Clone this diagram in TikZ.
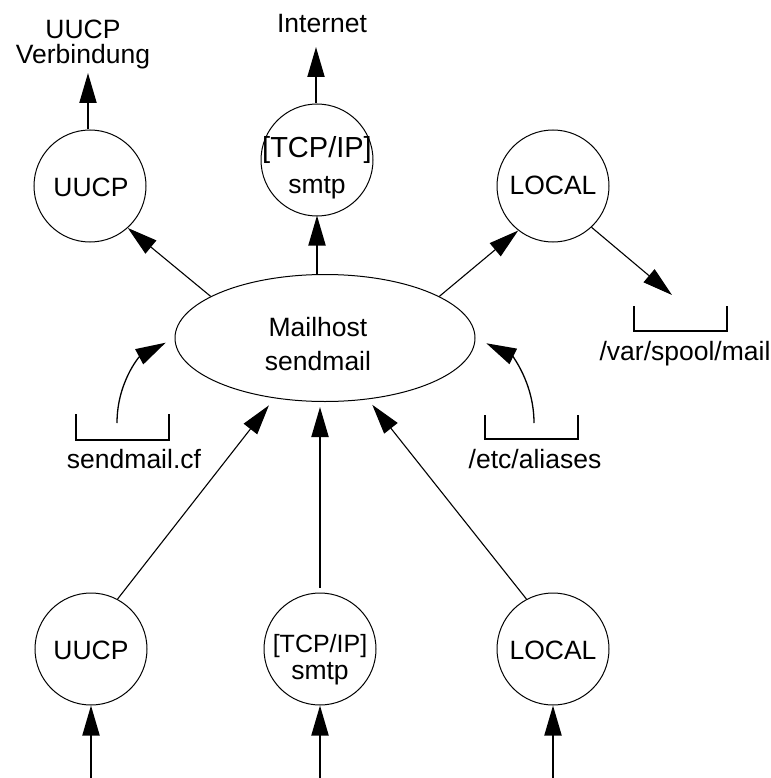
\documentclass[tikz,border=0pt]{standalone}
\usepackage{fontspec}
\setmainfont{Liberation Sans}
\usetikzlibrary{arrows.meta,shapes.geometric}
\begin{document}
\begin{tikzpicture}[x=1pt,y=-1pt,
  txt/.style={font=\fontsize{26.5}{30}\selectfont, inner sep=0pt, align=center},
  agent/.style={draw, circle, line width=1pt, minimum size=112pt, inner sep=0pt},
  hostshape/.style={draw, ellipse, line width=1pt, minimum width=300pt, minimum height=127pt, inner sep=0pt},
  tip/.style={-{Triangle[length=30pt,width=17pt]}},
  feed/.style={tip, line width=2pt},
  link/.style={tip, line width=1.1pt},
  cfg/.style={tip, line width=1.3pt},
  bracket/.style={line width=2.2pt},
]
\useasboundingbox (0,0) rectangle (770,778);
\coordinate (floor) at (0,778);

% central mail host
\node[hostshape] (host) at (325,338) {};
\node[txt] (hosttxt) at (318,344) {Mailhost\\[4pt]sendmail};

% outgoing mailers
\node[agent] (uucpTop) at (90,186) {};
\node[txt] (uucpTopTxt) at (91,187) {UUCP};
\node[agent] (tcpTop) at (317,160) {};
\node[txt] (tcpTopTxt) at (317,168) {\fontsize{29}{32}\selectfont [TCP/IP]\\[6pt]smtp};
\node[agent] (localTop) at (553,186) {};
\node[txt] (localTopTxt) at (553,185) {LOCAL};

% incoming mailers
\node[agent] (uucpBot) at (91,649) {};
\node[txt] (uucpBotTxt) at (91,650) {UUCP};
\node[agent] (tcpBot) at (320,649) {};
\node[txt] (tcpBotTxt) at (320,660) {\fontsize{25}{28}\selectfont [TCP/IP]\\[-3pt]smtp};
\node[agent] (localBot) at (553,649) {};
\node[txt] (localBotTxt) at (553,650) {LOCAL};

% external destinations
\node[txt] (uucpConn) at (83,44) {UUCP\\[-5pt]Verbindung};
\node[txt, anchor=base] (inet) at (322,33) {Internet};
\coordinate (uucpOut) at (88,73);
\coordinate (inetTip) at (316,47);

% files
\coordinate (spoolTip) at (672,295);
\draw[bracket] (634,306) -- (634,331) -- (727,331) -- (727,306);
\node[txt, anchor=base] (spool) at (685,360) {/var/spool/mail};

\draw[bracket] (76,414) -- (76,440) -- (169,440) -- (169,414);
\node[txt, anchor=base] (cf) at (134,468) {sendmail.cf};
\coordinate (cfOut) at (117,423);

\draw[bracket] (485,415) -- (485,439) -- (578,439) -- (578,415);
\node[txt, anchor=base] (aliases) at (535,468) {/etc/aliases};
\coordinate (alOut) at (534,423);

% outgoing connectors
\draw[feed] (uucpOut |- uucpTop.north) -- (uucpOut);
\draw[feed] (inetTip |- tcpTop.north) -- (inetTip);
\draw[link] (host.160) -- (uucpTop.-48);
\draw[feed, shorten >=-1pt] (host.north -| tcpTop.south) -- (tcpTop.south);
\draw[link] (host.20) -- (localTop.232);
\draw[link] (localTop.-47) -- (spoolTip);

% configuration files read by sendmail
\draw[cfg, shorten >=10pt] (cfOut) to[out=90, in=208] (host.west);
\draw[cfg, shorten >=12pt] (alOut) to[out=90, in=-26] (host.east);

% incoming connectors
\draw[link, shorten >=9pt] (uucpBot.62) -- (host.230.5);
\draw[feed, shorten <=5pt, shorten >=5pt] (tcpBot.north) -- (tcpBot.north |- host.south);
\draw[link, shorten >=7pt] (localBot.118) -- (host.305);

\draw[feed] (uucpBot.south |- floor) -- (uucpBot.south);
\draw[feed] (tcpBot.south |- floor) -- (tcpBot.south);
\draw[feed] (localBot.south |- floor) -- (localBot.south);
\end{tikzpicture}
\end{document}
